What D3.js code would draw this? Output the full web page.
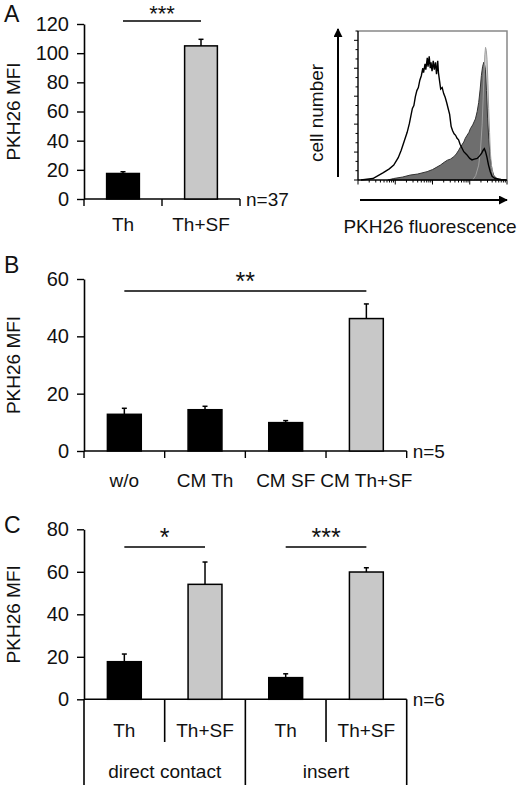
<!DOCTYPE html>
<html>
<head>
    <title>PKH26 MFI</title>
    <script src="https://d3js.org/d3.v7.min.js"></script>
    <style>
        body { margin: 0; background: #fff; }
        svg text { font-family: "Liberation Sans", Arial, sans-serif; fill: #111; }
    </style>
</head>
<body>
    <svg id="chart"></svg>

    <script>
        // Panel A: bars
        const catsA = ["Th", "Th+SF"];
        const meanA = [17.5, 105];
        const errA = [1.2, 4.5];
        const fillA = ["black", "gray"];
        const ticksA = [0, 20, 40, 60, 80, 100, 120];

        // Panel A: histogram (x, y as fraction of plot box)
        const histOpen = [[0.02,0],[0.10,0.01],[0.17,0.05],[0.21,0.075],[0.24,0.10],[0.27,0.15],[0.29,0.2],[0.31,0.26],[0.33,0.32],[0.345,0.38],[0.355,0.43],[0.365,0.48],[0.375,0.5],[0.385,0.56],[0.395,0.6],[0.405,0.62],[0.415,0.67],[0.425,0.70],[0.435,0.75],[0.44,0.72],[0.45,0.78],[0.455,0.74],[0.465,0.82],[0.47,0.76],[0.478,0.83],[0.485,0.75],[0.49,0.79],[0.497,0.73],[0.505,0.80],[0.512,0.74],[0.52,0.79],[0.527,0.71],[0.535,0.80],[0.54,0.72],[0.548,0.66],[0.555,0.61],[0.565,0.62],[0.575,0.58],[0.585,0.555],[0.595,0.52],[0.605,0.48],[0.615,0.44],[0.625,0.36],[0.635,0.33],[0.645,0.31],[0.655,0.30],[0.665,0.28],[0.675,0.27],[0.685,0.24],[0.695,0.22],[0.71,0.19],[0.73,0.17],[0.75,0.145],[0.765,0.135],[0.78,0.14],[0.80,0.145],[0.815,0.16],[0.83,0.18],[0.84,0.2],[0.848,0.21],[0.856,0.19],[0.866,0.15],[0.876,0.10],[0.888,0.055],[0.90,0.025],[0.92,0.01],[0.96,0.003],[1,0]];
        const histFilled = [[0.2,0],[0.24,0.01],[0.30,0.02],[0.35,0.033],[0.40,0.04],[0.464,0.056],[0.50,0.07],[0.553,0.10],[0.58,0.12],[0.60,0.133],[0.62,0.14],[0.643,0.156],[0.66,0.175],[0.676,0.2],[0.69,0.225],[0.71,0.255],[0.72,0.28],[0.732,0.30],[0.745,0.32],[0.754,0.344],[0.77,0.37],[0.788,0.41],[0.80,0.46],[0.81,0.52],[0.82,0.61],[0.828,0.70],[0.836,0.76],[0.844,0.79],[0.85,0.77],[0.855,0.74],[0.862,0.60],[0.87,0.41],[0.878,0.27],[0.888,0.144],[0.90,0.07],[0.91,0.033],[0.925,0.015],[0.944,0.005],[0.97,0]];
        const histControl = [[0.77,0],[0.79,0.03],[0.81,0.1],[0.822,0.2],[0.833,0.37],[0.84,0.55],[0.846,0.72],[0.851,0.84],[0.856,0.89],[0.861,0.87],[0.866,0.81],[0.872,0.65],[0.877,0.48],[0.883,0.32],[0.888,0.19],[0.896,0.09],[0.906,0.033],[0.92,0.008],[0.935,0]];

        // Panel B
        const catsB = ["w/o", "CM Th", "CM SF", "CM Th+SF"];
        const meanB = [12.8, 14.4, 9.9, 46.2];
        const errB = [2.1, 1.2, 0.7, 5.1];
        const fillB = ["black", "black", "black", "gray"];
        const ticksB = [0, 20, 40, 60];

        // Panel C
        const catsC = ["Th", "Th+SF", "Th", "Th+SF"];
        const groupsC = ["direct contact", "insert"];
        const meanC = [17.7, 54.1, 10.2, 59.9];
        const errC = [3.6, 10.5, 1.8, 2.0];
        const fillC = ["black", "gray", "black", "gray"];
        const ticksC = [0, 20, 40, 60, 80];

        const width = 520, height = 785;
        const svg = d3.select("#chart")
            .attr("width", width)
            .attr("height", height);

        const fs = 19;
        const colors = { black: "#000", gray: "#c8c8c8" };

        function barPanel(cfg) {
            const g = svg.append("g");
            const x = d3.scaleBand().domain(d3.range(cfg.means.length)).range([cfg.x0, cfg.x1]);
            const y = d3.scaleLinear().domain([0, cfg.max]).range([cfg.y0, cfg.yTop]);
            const bw = x.bandwidth() * 0.42;

            // y axis
            const yAxis = g.append("g")
                .attr("transform", `translate(${cfg.x0},0)`)
                .call(d3.axisLeft(y).tickValues(cfg.ticks).tickSize(7).tickPadding(8).tickSizeOuter(0));
            yAxis.select(".domain").attr("stroke-width", 1.6);
            yAxis.selectAll(".tick line").attr("stroke-width", 1.4);
            yAxis.selectAll("text").style("font-size", "20px").attr("fill", "#111");

            // x axis line
            g.append("line")
                .attr("x1", cfg.x0).attr("x2", cfg.x1)
                .attr("y1", cfg.y0).attr("y2", cfg.y0)
                .attr("stroke", "#000").attr("stroke-width", 1.6);

            // bars
            g.selectAll("rect.bar")
                .data(cfg.means)
                .join("rect")
                .attr("x", (d, i) => x(i) + (x.bandwidth() - bw) / 2)
                .attr("y", d => y(d))
                .attr("width", bw)
                .attr("height", d => cfg.y0 - y(d))
                .attr("fill", (d, i) => colors[cfg.fills[i]])
                .attr("stroke", "#000")
                .attr("stroke-width", 1.5);

            // error bars (upper only)
            cfg.means.forEach((m, i) => {
                const cx = x(i) + x.bandwidth() / 2;
                g.append("line")
                    .attr("x1", cx).attr("x2", cx)
                    .attr("y1", y(m)).attr("y2", y(m + cfg.errs[i]))
                    .attr("stroke", "#000").attr("stroke-width", 1.5);
                g.append("line")
                    .attr("x1", cx - 2.5).attr("x2", cx + 2.5)
                    .attr("y1", y(m + cfg.errs[i])).attr("y2", y(m + cfg.errs[i]))
                    .attr("stroke", "#000").attr("stroke-width", 1.5);
            });

            // n label
            g.append("text")
                .attr("x", cfg.x1 + 6).attr("y", cfg.y0 + 7)
                .style("font-size", fs + "px")
                .text(cfg.n);

            // significance
            cfg.sig.forEach(s => {
                const xa = x(s.from) + x.bandwidth() / 2, xb = x(s.to) + x.bandwidth() / 2;
                g.append("line")
                    .attr("x1", xa).attr("x2", xb)
                    .attr("y1", s.y).attr("y2", s.y)
                    .attr("stroke", "#000").attr("stroke-width", 1.5);
                g.append("text")
                    .attr("x", (xa + xb) / 2).attr("y", s.y - (s.dy ?? 1.5))
                    .attr("text-anchor", "middle")
                    .style("font-size", (s.size || 25) + "px")
                    .text(s.stars);
            });

            // panel letter + y title
            g.append("text")
                .attr("x", 4).attr("y", cfg.letterY)
                .style("font-size", "23px")
                .text(cfg.letter);
            g.append("text")
                .attr("transform", `translate(${20},${(cfg.y0 + cfg.yTop) / 2}) rotate(-90)`)
                .attr("text-anchor", "middle")
                .style("font-size", fs + "px")
                .text("PKH26 MFI");

            return { g, x, y };
        }

        // ---------- Panel A bars ----------
        const A = barPanel({
            means: meanA, errs: errA, fills: fillA, ticks: ticksA, max: 120,
            x0: 84, x1: 240, y0: 199, yTop: 24, n: "n=37", letter: "A", letterY: 22,
            sig: [{ from: 0, to: 1, y: 21, stars: "***", size: 22, dy: 0 }]
        });
        d3.range(catsA.length + 1).forEach(i => {
            const xx = i < catsA.length ? A.x(i) : 240;
            A.g.append("line").attr("x1", xx).attr("x2", xx).attr("y1", 199).attr("y2", 206)
                .attr("stroke", "#000").attr("stroke-width", 1.4);
        });
        A.g.selectAll("text.cat").data(catsA).join("text")
            .attr("x", (d, i) => A.x(i) + A.x.bandwidth() / 2).attr("y", 231)
            .attr("text-anchor", "middle").style("font-size", fs + "px")
            .text(d => d);

        // ---------- Panel A histogram ----------
        const hx = d3.scaleLinear().domain([0, 1]).range([358, 507]);
        const hy = d3.scaleLinear().domain([0, 1]).range([180, 31]);
        const hLine = d3.line().x(d => hx(d[0])).y(d => hy(d[1]));
        const hArea = d3.area().x(d => hx(d[0])).y0(hy(0)).y1(d => hy(d[1]));
        const hg = svg.append("g");

        hg.append("path").attr("d", hArea(histControl)).attr("fill", "#cfcfcf");
        hg.append("path").attr("d", hArea(histFilled)).attr("fill", "#6e6e6e")
            .attr("stroke", "#333").attr("stroke-width", 1);
        hg.append("path").attr("d", hLine(histControl)).attr("fill", "none")
            .attr("stroke", "#a0a0a0").attr("stroke-width", 1);
        hg.append("path").attr("d", hLine(histOpen)).attr("fill", "none")
            .attr("stroke", "#000").attr("stroke-width", 1.4);

        // frame: grey top/right
        hg.append("path")
            .attr("d", `M${hx(0)},${hy(1)}H${hx(1)}V${hy(0)}`)
            .attr("fill", "none").attr("stroke", "#888").attr("stroke-width", 1.5);
        // left axis with linear ticks
        const hyTicks = d3.range(0, 1.0001, 1 / 16);
        hg.append("line").attr("x1", hx(0)).attr("x2", hx(0)).attr("y1", hy(0)).attr("y2", hy(1))
            .attr("stroke", "#000").attr("stroke-width", 1.4);
        hg.selectAll("line.yt").data(hyTicks).join("line")
            .attr("x1", (d, i) => hx(0) - (i % 3 === 0 ? 4 : 2.5)).attr("x2", hx(0))
            .attr("y1", d => hy(d)).attr("y2", d => hy(d))
            .attr("stroke", "#000").attr("stroke-width", 1);
        // bottom log axis, 4 decades
        const logX = d3.scaleLog().domain([1, 1e4]).range([hx(0), hx(1)]);
        hg.append("line").attr("x1", hx(0)).attr("x2", hx(1)).attr("y1", hy(0)).attr("y2", hy(0))
            .attr("stroke", "#000").attr("stroke-width", 1.4);
        const logTicks = logX.ticks();
        hg.selectAll("line.xt").data(logTicks).join("line")
            .attr("x1", d => logX(d)).attr("x2", d => logX(d))
            .attr("y1", hy(0))
            .attr("y2", d => hy(0) + (Math.abs(Math.log10(d) % 1) < 1e-9 ? 4.5 : 2.5))
            .attr("stroke", "#000").attr("stroke-width", 1);

        // arrows
        const defs = svg.append("defs");
        defs.append("marker").attr("id", "arrow").attr("viewBox", "0 0 10 10")
            .attr("refX", 9).attr("refY", 5).attr("markerWidth", 9).attr("markerHeight", 9)
            .attr("markerUnits", "userSpaceOnUse").attr("orient", "auto")
            .append("path").attr("d", "M0,0L10,5L0,10Z").attr("fill", "#000");
        hg.append("line").attr("x1", 338).attr("x2", 338).attr("y1", 177).attr("y2", 29)
            .attr("stroke", "#000").attr("stroke-width", 2).attr("marker-end", "url(#arrow)");
        hg.append("line").attr("x1", 360).attr("x2", 507).attr("y1", 200).attr("y2", 200)
            .attr("stroke", "#000").attr("stroke-width", 2).attr("marker-end", "url(#arrow)");
        hg.append("text")
            .attr("transform", "translate(323,113) rotate(-90)")
            .attr("text-anchor", "middle").style("font-size", fs + "px")
            .text("cell number");
        hg.append("text")
            .attr("x", 430).attr("y", 233)
            .attr("text-anchor", "middle").style("font-size", fs + "px")
            .text("PKH26 fluorescence");

        // ---------- Panel B ----------
        const B = barPanel({
            means: meanB, errs: errB, fills: fillB, ticks: ticksB, max: 60,
            x0: 84, x1: 406.7, y0: 451, yTop: 279, n: "n=5", letter: "B", letterY: 273,
            sig: [{ from: 0, to: 3, y: 291, stars: "**" }]
        });
        d3.range(catsB.length + 1).forEach(i => {
            const xx = i < catsB.length ? B.x(i) : 406.7;
            B.g.append("line").attr("x1", xx).attr("x2", xx).attr("y1", 451).attr("y2", 458)
                .attr("stroke", "#000").attr("stroke-width", 1.4);
        });
        B.g.selectAll("text.cat").data(catsB).join("text")
            .attr("x", (d, i) => B.x(i) + B.x.bandwidth() / 2).attr("y", 487)
            .attr("text-anchor", "middle").style("font-size", fs + "px")
            .text(d => d);

        // ---------- Panel C ----------
        const C = barPanel({
            means: meanC, errs: errC, fills: fillC, ticks: ticksC, max: 80,
            x0: 84, x1: 406.7, y0: 699.3, yTop: 529.3, n: "n=6", letter: "C", letterY: 533,
            sig: [{ from: 0, to: 1, y: 547, stars: "*" }, { from: 2, to: 3, y: 547, stars: "***" }]
        });
        // category separators: short between pairs, long between groups
        d3.range(catsC.length + 1).forEach(i => {
            const xx = i < catsC.length ? C.x(i) : 406.7;
            const long = i % 2 === 0;
            C.g.append("line").attr("x1", xx).attr("x2", xx).attr("y1", 699.3).attr("y2", long ? 785 : 742)
                .attr("stroke", "#000").attr("stroke-width", 1.6);
        });
        C.g.selectAll("text.cat").data(catsC).join("text")
            .attr("x", (d, i) => C.x(i) + C.x.bandwidth() / 2).attr("y", 737)
            .attr("text-anchor", "middle").style("font-size", fs + "px")
            .text(d => d);
        C.g.selectAll("text.grp").data(groupsC).join("text")
            .attr("x", (d, i) => (C.x(i * 2) + C.x(i * 2 + 1) + C.x.bandwidth()) / 2).attr("y", 778)
            .attr("text-anchor", "middle").style("font-size", fs + "px")
            .text(d => d);
    </script>
</body>
</html>
